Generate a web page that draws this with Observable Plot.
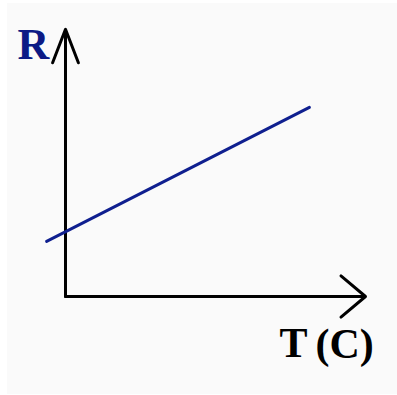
<!DOCTYPE html>
<html>
<head>
<meta charset="utf-8">
<script src="https://cdn.jsdelivr.net/npm/d3@7"></script>
<script src="https://cdn.jsdelivr.net/npm/@observablehq/plot@0.6"></script>
<style>
  html, body { margin: 0; padding: 0; background: #ffffff; }
  #chart { position: absolute; left: 7px; top: 3px; }
  #chart svg { display: block; }
</style>
</head>
<body>
<div id="chart"></div>
<script>
// Conceptual line: resistance R rising with temperature T
const temps = [-0.63, 8.13];
const resist = [2.07, 7.11];

// Axis arrows (origin to ends)
const axisX1 = [0, 0];
const axisY1 = [0, 0];
const axisX2 = [10, 0];
const axisY2 = [0, 10.05];

// Axis labels
const labelText = ["R", "T", "(C)"];
const labelX = [-1.6, 7.13, 8.33];
const labelY = [8.91, -2.29, -2.33];

const serif = "'Liberation Serif', 'DejaVu Serif', 'Times New Roman', serif";

const chart = Plot.plot({
  width: 390,
  height: 391,
  marginLeft: 58,
  marginRight: 32,
  marginTop: 27,
  marginBottom: 98,
  x: { domain: [0, 10], axis: null },
  y: { domain: [0, 10], axis: null },
  style: { background: "#fafafa", overflow: "visible" },
  marks: [
    Plot.arrow([0], {
      x1: [axisX1[0]], y1: [axisY1[0]], x2: [axisX2[0]], y2: [axisY2[0]],
      stroke: "#000", strokeWidth: 3, headLength: 16, headAngle: 80, bend: 0
    }),
    Plot.arrow([0], {
      x1: [axisX1[1]], y1: [axisY1[1]], x2: [axisX2[1]], y2: [axisY2[1]],
      stroke: "#000", strokeWidth: 3, headLength: 18, headAngle: 42, bend: 0
    }),
    Plot.line(temps.map((t, i) => ({ t, r: resist[i] })), {
      x: "t", y: "r", stroke: "#0f1f8f", strokeWidth: 3
    }),
    Plot.text([labelText[0]], {
      x: [labelX[0]], y: [labelY[0]], text: d => d,
      textAnchor: "start", lineAnchor: "bottom",
      fontSize: 44, fontWeight: "bold", fontFamily: serif, fill: "#0c1a85"
    }),
    Plot.text([labelText[1]], {
      x: [labelX[1]], y: [labelY[1]], text: d => d,
      textAnchor: "start", lineAnchor: "bottom",
      fontSize: 42, fontWeight: "bold", fontFamily: serif, fill: "#000"
    }),
    Plot.text([labelText[2]], {
      x: [labelX[2]], y: [labelY[2]], text: d => d,
      textAnchor: "start", lineAnchor: "bottom",
      fontSize: 42, fontWeight: "bold", fontFamily: serif, fill: "#000"
    })
  ]
});
document.getElementById("chart").append(chart);
</script>
</body>
</html>
